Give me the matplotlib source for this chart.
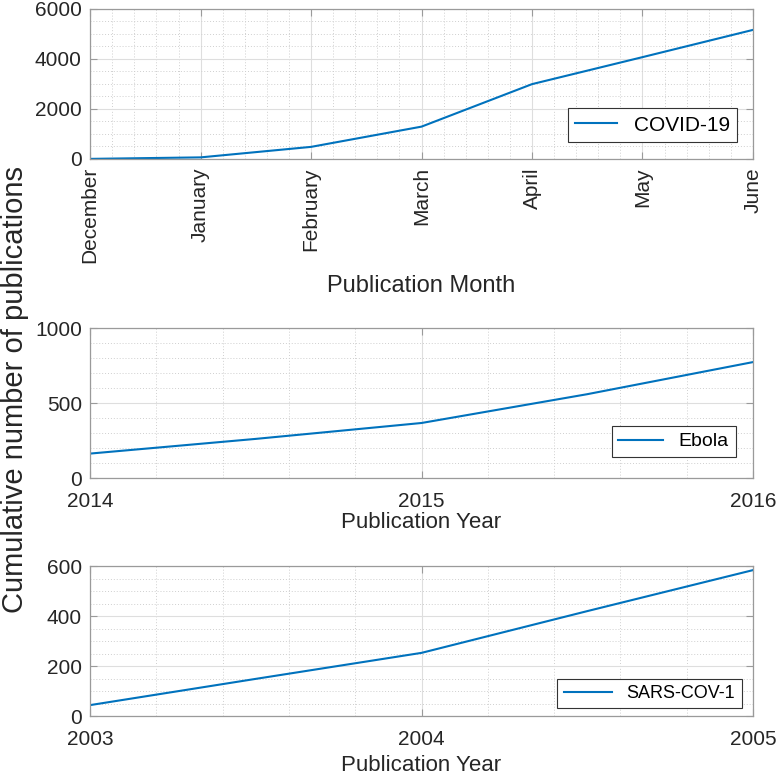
import matplotlib
matplotlib.use("Agg")
import matplotlib.pyplot as plt
from matplotlib.ticker import MultipleLocator, AutoMinorLocator

# ---------------------------------------------------------------------------
# Data
# ---------------------------------------------------------------------------
months = ["December", "January", "February", "March", "April", "May", "June"]
covid_counts = [0, 60, 480, 1290, 2990, 4070, 5160]

ebola_years = [2014, 2014.5, 2015, 2015.5, 2016]
ebola_counts = [164, 262, 368, 560, 774]

sars_years = [2003, 2003.5, 2004, 2004.5, 2005]
sars_counts = [44, 149, 253, 420, 584]

LINE_BLUE = "#0072BD"
FRAME = "#9a9a9a"
TEXT = "#262626"

plt.rcParams.update({
    "font.family": ["Liberation Sans", "DejaVu Sans"],
    "font.size": 15,
    "xtick.direction": "in",
    "ytick.direction": "in",
    "xtick.top": True,
    "ytick.right": True,
    "xtick.color": FRAME,
    "ytick.color": FRAME,
    "xtick.labelcolor": TEXT,
    "ytick.labelcolor": TEXT,
    "axes.edgecolor": FRAME,
    "axes.labelcolor": TEXT,
})

fig = plt.figure(figsize=(7.77, 7.75), dpi=100)
ax_top = fig.add_axes([0.116, 0.795, 0.853, 0.1935])
ax_mid = fig.add_axes([0.116, 0.383, 0.853, 0.1935])
ax_bot = fig.add_axes([0.116, 0.076, 0.853, 0.1935])


def style_axes(ax):
    ax.grid(True, which="major", color="#dedede", linewidth=0.8)
    ax.grid(True, which="minor", color="#cfcfcf", linestyle=(0, (1, 2)),
            linewidth=0.7)
    ax.set_axisbelow(True)
    ax.tick_params(which="major", length=5, width=0.8, labelsize=15)
    ax.tick_params(axis="y", which="major", pad=6)
    ax.tick_params(which="minor", length=0)
    for sp in ax.spines.values():
        sp.set_linewidth(0.9)


def add_legend(ax, anchor, size, hlen):
    leg = ax.legend(loc="lower right", bbox_to_anchor=anchor, fancybox=False,
                    framealpha=1, edgecolor="#333333", fontsize=size,
                    handlelength=hlen, borderpad=0.35, borderaxespad=0)
    leg.get_frame().set_linewidth(0.8)


# COVID-19 (monthly)
x_month = list(range(len(months)))
ax_top.plot(x_month, covid_counts, color=LINE_BLUE, linewidth=1.5,
            label="COVID-19")
ax_top.set_xlim(0, len(months) - 1)
ax_top.set_ylim(0, 6000)
ax_top.set_xticks(x_month)
ax_top.set_xticklabels(months, rotation=90)
ax_top.yaxis.set_major_locator(MultipleLocator(2000))
ax_top.yaxis.set_minor_locator(MultipleLocator(500))
ax_top.xaxis.set_minor_locator(AutoMinorLocator(5))
style_axes(ax_top)
ax_top.tick_params(axis="x", which="major", pad=6)
ax_top.set_xlabel("Publication Month", fontsize=17, labelpad=8)
add_legend(ax_top, (0.976, 0.113), 15, 2.0)

# Ebola
ax_mid.plot(ebola_years, ebola_counts, color=LINE_BLUE, linewidth=1.5,
            label="Ebola")
ax_mid.set_xlim(2014, 2016)
ax_mid.set_ylim(0, 1000)
ax_mid.set_xticks([2014, 2015, 2016])
ax_mid.set_xticklabels(["2014", "2015", "2016"])
ax_mid.yaxis.set_major_locator(MultipleLocator(500))
ax_mid.yaxis.set_minor_locator(MultipleLocator(100))
ax_mid.xaxis.set_minor_locator(AutoMinorLocator(5))
style_axes(ax_mid)
ax_mid.tick_params(axis="x", which="major", pad=10)
ax_mid.set_xlabel("Publication Year", fontsize=16, labelpad=1)
add_legend(ax_mid, (0.974, 0.14), 14, 2.3)

# SARS-COV-1
ax_bot.plot(sars_years, sars_counts, color=LINE_BLUE, linewidth=1.5,
            label="SARS-COV-1")
ax_bot.set_xlim(2003, 2005)
ax_bot.set_ylim(0, 600)
ax_bot.set_xticks([2003, 2004, 2005])
ax_bot.set_xticklabels(["2003", "2004", "2005"])
ax_bot.yaxis.set_major_locator(MultipleLocator(200))
ax_bot.yaxis.set_minor_locator(MultipleLocator(50))
ax_bot.xaxis.set_minor_locator(AutoMinorLocator(5))
style_axes(ax_bot)
ax_bot.tick_params(axis="x", which="major", pad=10)
ax_bot.set_xlabel("Publication Year", fontsize=16, labelpad=4)
add_legend(ax_bot, (0.983, 0.053), 13, 2.7)

fig.text(0.019, 0.498, "Cumulative number of publications", rotation=90,
         ha="center", va="center", fontsize=21, color=TEXT)

fig.savefig("out.png", dpi=100, facecolor="white")
